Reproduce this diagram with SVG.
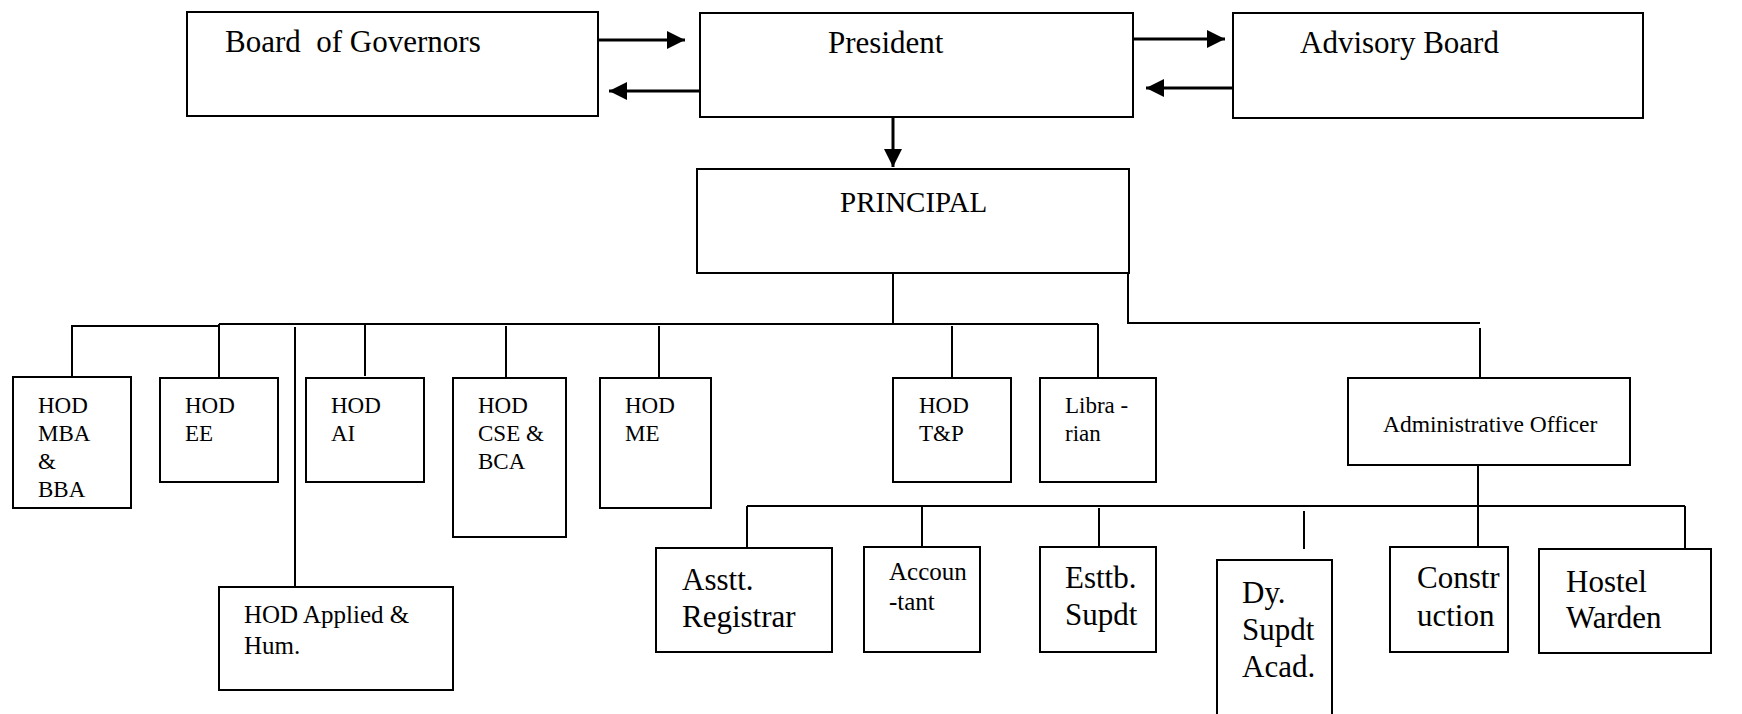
<svg xmlns="http://www.w3.org/2000/svg" width="1742" height="714" viewBox="0 0 1742 714">
<style>
.box{fill:#fff;stroke:#000;stroke-width:2}
.ln{fill:none;stroke:#000;stroke-width:2}
.ar{fill:none;stroke:#000;stroke-width:3}
text{font-family:"Liberation Serif","Times New Roman",serif;fill:#000}
.big{font-size:31px}
.sm{font-size:23px}
.md{font-size:25px}
</style>
<defs>
<marker id="ah" markerUnits="userSpaceOnUse" markerWidth="19" markerHeight="18" refX="18" refY="9" orient="auto">
<path d="M0,0 L18,9 L0,18 z" fill="#000"/>
</marker>
</defs>
<rect width="1742" height="714" fill="#fff"/>

<g id="connectors">
<line class="ar" x1="598" y1="40" x2="685" y2="40" marker-end="url(#ah)"/>
<line class="ar" x1="700" y1="91" x2="609" y2="91" marker-end="url(#ah)"/>
<line class="ar" x1="1133" y1="39" x2="1225" y2="39" marker-end="url(#ah)"/>
<line class="ar" x1="1233" y1="88" x2="1146" y2="88" marker-end="url(#ah)"/>
<line class="ar" x1="893" y1="117" x2="893" y2="167" marker-end="url(#ah)"/>
<line class="ln" x1="893" y1="273" x2="893" y2="324"/>
<line class="ln" x1="219" y1="324" x2="1098" y2="324"/>
<polyline class="ln" points="72,377 72,326 219,326"/>
<line class="ln" x1="219" y1="324" x2="219" y2="377"/>
<line class="ln" x1="295" y1="327" x2="295" y2="587"/>
<line class="ln" x1="365" y1="324" x2="365" y2="376"/>
<line class="ln" x1="506" y1="326" x2="506" y2="378"/>
<line class="ln" x1="659" y1="326" x2="659" y2="378"/>
<line class="ln" x1="952" y1="326" x2="952" y2="378"/>
<line class="ln" x1="1098" y1="324" x2="1098" y2="378"/>
<polyline class="ln" points="1128,273 1128,323 1480,323"/>
<line class="ln" x1="1480" y1="328" x2="1480" y2="396"/>
<line class="ln" x1="1478" y1="450" x2="1478" y2="549"/>
<line class="ln" x1="747" y1="506" x2="1685" y2="506"/>
<line class="ln" x1="747" y1="506" x2="747" y2="548"/>
<line class="ln" x1="922" y1="506" x2="922" y2="547"/>
<line class="ln" x1="1099" y1="508" x2="1099" y2="550"/>
<line class="ln" x1="1304" y1="511" x2="1304" y2="549"/>
<line class="ln" x1="1685" y1="506" x2="1685" y2="549"/>
</g>

<g id="board"><rect class="box" x="187" y="12" width="411" height="104"/><text class="big" x="225" y="52" xml:space="preserve">Board  of Governors</text></g>
<g id="president"><rect class="box" x="700" y="13" width="433" height="104"/><text class="big" x="828" y="53">President</text></g>
<g id="advisory"><rect class="box" x="1233" y="13" width="410" height="105"/><text class="big" x="1300" y="53">Advisory Board</text></g>
<g id="principal"><rect class="box" x="697" y="169" width="432" height="104"/><text x="840" y="212" style="font-size:29px">PRINCIPAL</text></g>

<g id="hod-mba"><rect class="box" x="13" y="377" width="118" height="131"/><text class="sm" x="38" y="413">HOD</text><text class="sm" x="38" y="441">MBA</text><text class="sm" x="38" y="469">&amp;</text><text class="sm" x="38" y="497">BBA</text></g>
<g id="hod-ee"><rect class="box" x="160" y="378" width="118" height="104"/><text class="sm" x="185" y="413">HOD</text><text class="sm" x="185" y="441">EE</text></g>
<g id="hod-ai"><rect class="box" x="306" y="378" width="118" height="104"/><text class="sm" x="331" y="413">HOD</text><text class="sm" x="331" y="441">AI</text></g>
<g id="hod-cse"><rect class="box" x="453" y="378" width="113" height="159"/><text class="sm" x="478" y="413">HOD</text><text class="sm" x="478" y="441">CSE &amp;</text><text class="sm" x="478" y="469">BCA</text></g>
<g id="hod-me"><rect class="box" x="600" y="378" width="111" height="130"/><text class="sm" x="625" y="413">HOD</text><text class="sm" x="625" y="441">ME</text></g>
<g id="hod-tp"><rect class="box" x="893" y="378" width="118" height="104"/><text class="sm" x="919" y="413">HOD</text><text class="sm" x="919" y="441">T&amp;P</text></g>
<g id="librarian"><rect class="box" x="1040" y="378" width="116" height="104"/><text class="sm" x="1065" y="413">Libra -</text><text class="sm" x="1065" y="441">rian</text></g>
<g id="admin"><rect class="box" x="1348" y="378" width="282" height="87"/><text x="1383" y="432" style="font-size:23.5px">Administrative Officer</text></g>
<g id="hod-applied"><rect class="box" x="219" y="587" width="234" height="103"/><text class="md" x="244" y="623">HOD Applied &amp;</text><text class="md" x="244" y="654">Hum.</text></g>

<g id="asstt-registrar"><rect class="box" x="656" y="548" width="176" height="104"/><text class="big" x="682" y="590">Asstt.</text><text class="big" x="682" y="627">Registrar</text></g>
<g id="accountant"><rect class="box" x="864" y="547" width="116" height="105"/><text class="md" x="889" y="580">Accoun</text><text class="md" x="889" y="610">-tant</text></g>
<g id="esttb"><rect class="box" x="1040" y="547" width="116" height="105"/><text class="big" x="1065" y="588">Esttb.</text><text class="big" x="1065" y="625">Supdt</text></g>
<g id="dy-supdt"><rect class="box" x="1217" y="560" width="115" height="170"/><text class="big" x="1242" y="603">Dy.</text><text class="big" x="1242" y="640">Supdt</text><text class="big" x="1242" y="677">Acad.</text></g>
<g id="construction"><rect class="box" x="1390" y="547" width="118" height="105"/><text class="big" x="1417" y="588">Constr</text><text class="big" x="1417" y="626">uction</text></g>
<g id="hostel"><rect class="box" x="1539" y="549" width="172" height="104"/><text class="big" x="1566" y="592">Hostel</text><text class="big" x="1566" y="628">Warden</text></g>
</svg>
